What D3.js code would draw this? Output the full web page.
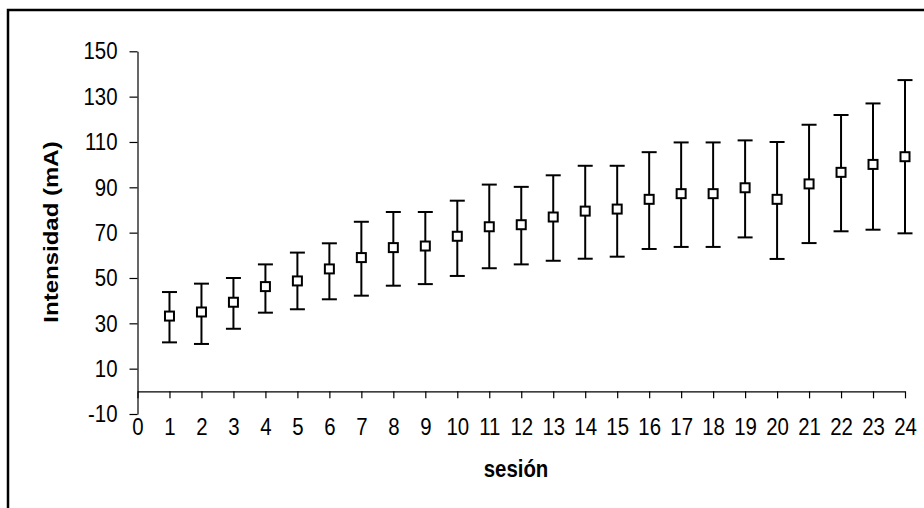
<!DOCTYPE html>
<html>
<head>
<meta charset="utf-8">
<script src="https://cdn.jsdelivr.net/npm/d3@7"></script>
<style>
  html, body { margin: 0; padding: 0; background: #fff; }
  svg { display: block; font-family: "Liberation Sans", Arial, sans-serif; }
</style>
</head>
<body>
<svg id="chart" width="924" height="508"></svg>
<script>
// Sessions and mean current with the spread around each mean
const sessions = [1,2,3,4,5,6,7,8,9,10,11,12,13,14,15,16,17,18,19,20,21,22,23,24];
const means = [33.2,35.0,39.3,46.2,48.7,54.0,59.0,63.4,64.1,68.4,72.6,73.5,76.9,79.5,80.4,84.7,87.2,87.2,89.8,84.7,91.5,96.6,100.1,103.5];
const upper = [43.8,47.5,50.0,56.0,61.2,65.3,74.8,79.1,79.1,84.1,91.2,90.2,95.3,99.5,99.5,105.5,109.8,109.8,110.7,110.0,117.6,121.9,127.0,137.3];
const lower = [21.6,20.9,27.6,34.7,36.2,40.6,42.2,46.6,47.3,50.9,54.3,56.0,57.6,58.5,59.4,62.8,63.7,63.7,67.9,58.4,65.4,70.6,71.3,69.7];
const yTicks = [-10,10,30,50,70,90,110,130,150];
const xTicks = [0,1,2,3,4,5,6,7,8,9,10,11,12,13,14,15,16,17,18,19,20,21,22,23,24];
const xTitle = "sesión";
const yTitle = "Intensidad (mA)";

const rows = sessions.map((s, i) => ({ s, m: means[i], hi: upper[i], lo: lower[i] }));

// text is set in a slightly narrowed face
const FONT = 24;
const NARROW = 0.85;

const svg = d3.select("#chart");

// outer chart frame (runs off the right and bottom edges)
svg.append("rect")
  .attr("x", 8).attr("y", 10)
  .attr("width", 940).attr("height", 540)
  .attr("fill", "none").attr("stroke", "#000").attr("stroke-width", 2.5);

const x = d3.scaleLinear().domain([0, 24]).range([137.5, 905]);
const y = d3.scaleLinear().domain([-10, 150]).range([414, 51.3]);

// y axis
const gy = svg.append("g")
  .attr("transform", `translate(${x(0)},0)`)
  .call(d3.axisLeft(y).tickValues(yTicks).tickFormat(d => String(d)).tickSize(8).tickSizeOuter(0));
gy.select(".domain").attr("stroke", "#000").attr("stroke-width", 1.2);
gy.selectAll(".tick line").attr("stroke", "#000").attr("stroke-width", 1.2);
gy.selectAll(".tick text")
  .attr("x", 0)
  .attr("transform", `translate(-20,0) scale(${NARROW},1)`)
  .attr("font-size", FONT).attr("fill", "#000")
  .attr("font-family", "Liberation Sans, Arial, sans-serif");

// x axis on the zero line
const gx = svg.append("g")
  .attr("transform", `translate(0,${y(0)})`)
  .call(d3.axisBottom(x).tickValues(xTicks).tickFormat(d => String(d)).tickSize(7).tickPadding(20).tickSizeOuter(0));
gx.select(".domain").attr("stroke", "#000").attr("stroke-width", 1.2);
gx.selectAll(".tick line").attr("stroke", "#000").attr("stroke-width", 1.2);
gx.selectAll(".tick text")
  .attr("transform", `scale(${NARROW},1)`)
  .attr("font-size", FONT).attr("fill", "#000")
  .attr("font-family", "Liberation Sans, Arial, sans-serif");

// error bars
const bars = svg.append("g").attr("stroke", "#000").attr("stroke-width", 2).attr("fill", "none");
bars.selectAll("line.v").data(rows).join("line").attr("class", "v")
  .attr("x1", d => x(d.s)).attr("x2", d => x(d.s))
  .attr("y1", d => y(d.hi)).attr("y2", d => y(d.lo));
bars.selectAll("line.top").data(rows).join("line").attr("class", "top")
  .attr("x1", d => x(d.s) - 7.5).attr("x2", d => x(d.s) + 7.5)
  .attr("y1", d => y(d.hi)).attr("y2", d => y(d.hi));
bars.selectAll("line.bot").data(rows).join("line").attr("class", "bot")
  .attr("x1", d => x(d.s) - 7.5).attr("x2", d => x(d.s) + 7.5)
  .attr("y1", d => y(d.lo)).attr("y2", d => y(d.lo));

// mean markers: open squares
svg.append("g").selectAll("rect").data(rows).join("rect")
  .attr("x", d => x(d.s) - 4.5).attr("y", d => y(d.m) - 4.5)
  .attr("width", 9).attr("height", 9)
  .attr("fill", "#fff").attr("stroke", "#000").attr("stroke-width", 2);

// axis titles
svg.append("text")
  .attr("transform", `translate(516,477) scale(${NARROW},1)`)
  .attr("text-anchor", "middle")
  .attr("font-size", FONT).attr("font-weight", "bold")
  .text(xTitle);

svg.append("text")
  .attr("transform", `translate(58,232) scale(${NARROW},1) rotate(-90)`)
  .attr("text-anchor", "middle")
  .attr("font-size", FONT).attr("font-weight", "bold")
  .text(yTitle);
</script>
</body>
</html>
